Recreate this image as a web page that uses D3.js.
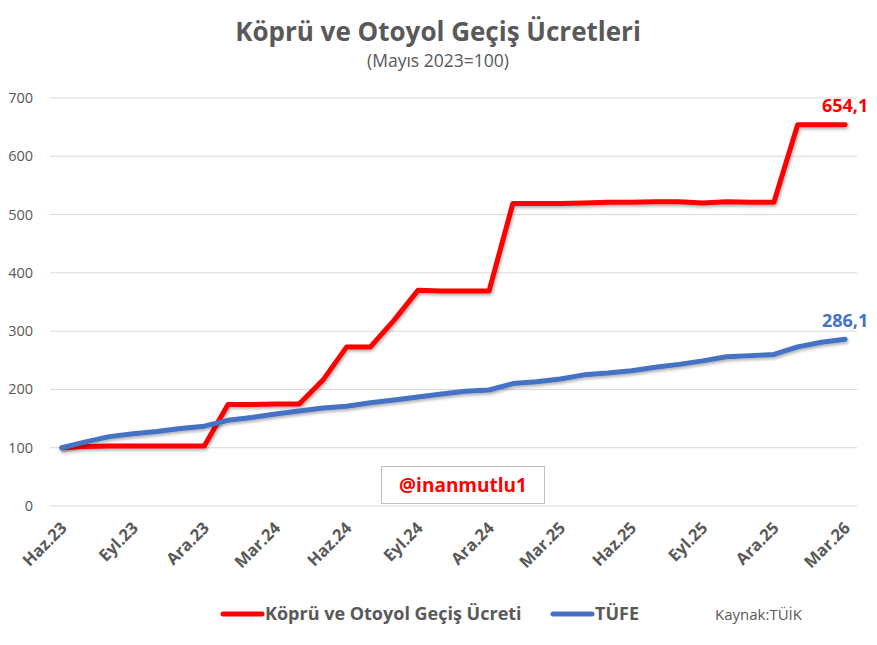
<!DOCTYPE html>
<html><head><meta charset="utf-8">
<script src="https://cdn.jsdelivr.net/npm/d3@7"></script>
<style>body{margin:0;background:#fff;font-family:"Open Sans",sans-serif}</style>
</head><body><svg id="c" width="877" height="645"></svg>
<script>
const months = ["Haz.23","Tem.23","Ağu.23","Eyl.23","Eki.23","Kas.23","Ara.23",
"Oca.24","Şub.24","Mar.24","Nis.24","May.24","Haz.24","Tem.24","Ağu.24","Eyl.24","Eki.24","Kas.24","Ara.24",
"Oca.25","Şub.25","Mar.25","Nis.25","May.25","Haz.25","Tem.25","Ağu.25","Eyl.25","Eki.25","Kas.25","Ara.25",
"Oca.26","Şub.26","Mar.26"];
const kopru = [100,102,103,103,103,103,103,
174,174,175,175,216,273,273,319,370,369,369,369,
519,519,519,520,521,521,522,522,520,522,521,521,
654,654,654.1];
const tufe = [100,110,119,124,128,133,137,
147,152,158,163,168,171,177,182,187,192,197,199,
210,213,218,225,228,232,238,243,249,256,258,260,
273,281,286.1];
const yTicks = [0,100,200,300,400,500,600,700];
const tickMonths = ["Haz.23","Eyl.23","Ara.23","Mar.24","Haz.24","Eyl.24","Ara.24","Mar.25","Haz.25","Eyl.25","Ara.25","Mar.26"];
const seriesNames = ["Köprü ve Otoyol Geçiş Ücreti","TÜFE"];
const colors = ["#ff0000","#4472c4"];

const svg = d3.select("#c");
const L=50,R=857,T=98,B=506;
const x = d3.scaleBand().domain(months).range([L,R]);
const xc = d => x(d)+x.bandwidth()/2;
const y = d3.scaleLinear().domain([0,700]).range([B,T]);

const defs = svg.append("defs");
const f = defs.append("filter").attr("id","sh").attr("x","-10%").attr("y","-10%").attr("width","120%").attr("height","130%");
f.append("feDropShadow").attr("dx",1).attr("dy",2).attr("stdDeviation",1.5).attr("flood-color","#000").attr("flood-opacity",0.3);

// grid
svg.append("g").selectAll("line").data(yTicks).join("line")
 .attr("x1",L).attr("x2",R).attr("y1",d=>y(d)).attr("y2",d=>y(d))
 .attr("stroke","#d9d9d9").attr("stroke-width",1);
// y labels
svg.append("g").selectAll("text").data(yTicks).join("text")
 .attr("x",33).attr("y",d=>y(d)+5).attr("text-anchor","end")
 .attr("font-size",14.5).attr("fill","#595959").text(d=>d);
// x labels
svg.append("g").selectAll("text").data(tickMonths).join("text")
 .attr("transform",d=>`translate(${xc(d)+6},${B+23}) rotate(-45)`)
 .attr("text-anchor","end").attr("font-size",16.5).attr("font-weight","bold")
 .attr("fill","#595959").text(d=>d);

// watermark
svg.append("rect").attr("x",381.5).attr("y",466.5).attr("width",163).attr("height",37)
 .attr("fill","#fff").attr("stroke","#bfbfbf");
svg.append("text").attr("x",463).attr("y",492).attr("text-anchor","middle")
 .attr("font-size",19).attr("font-weight","bold").attr("fill","#ff0000").text("@inanmutlu1");

const line = d3.line().x((d,i)=>xc(months[i])).y(d=>y(d));
[kopru,tufe].forEach((s,k)=>{
 svg.append("path").datum(s).attr("d",line).attr("fill","none")
  .attr("stroke",colors[k]).attr("stroke-width",5).attr("stroke-linejoin","round")
  .attr("stroke-linecap","round").attr("filter","url(#sh)");
});
// end labels
svg.append("text").attr("x",xc("Mar.26")).attr("y",y(654.1)-13).attr("text-anchor","middle")
 .attr("font-size",18).attr("font-weight","bold").attr("fill",colors[0]).text("654,1");
svg.append("text").attr("x",xc("Mar.26")).attr("y",y(286.1)-12).attr("text-anchor","middle")
 .attr("font-size",18).attr("font-weight","bold").attr("fill",colors[1]).text("286,1");

// title
svg.append("text").attr("x",438).attr("y",41).attr("text-anchor","middle")
 .attr("font-size",26).attr("font-weight","bold").attr("fill","#595959").text("Köprü ve Otoyol Geçiş Ücretleri");
svg.append("text").attr("x",438).attr("y",67).attr("text-anchor","middle")
 .attr("font-size",17.5).attr("fill","#595959").text("(Mayıs 2023=100)");

// legend
const lg = [{x:223,w:39,tx:265},{x:553,w:39,tx:595}];
lg.forEach((g,k)=>{
 svg.append("line").attr("x1",g.x).attr("x2",g.x+g.w).attr("y1",614).attr("y2",614)
  .attr("stroke",colors[k]).attr("stroke-width",5).attr("stroke-linecap","round");
 svg.append("text").attr("x",g.tx).attr("y",620).attr("font-size",18).attr("font-weight","bold")
  .attr("fill","#595959").text(seriesNames[k]);
});
svg.append("text").attr("x",715).attr("y",620).attr("font-size",15).attr("fill","#595959").text("Kaynak:TÜİK");
</script></body></html>
